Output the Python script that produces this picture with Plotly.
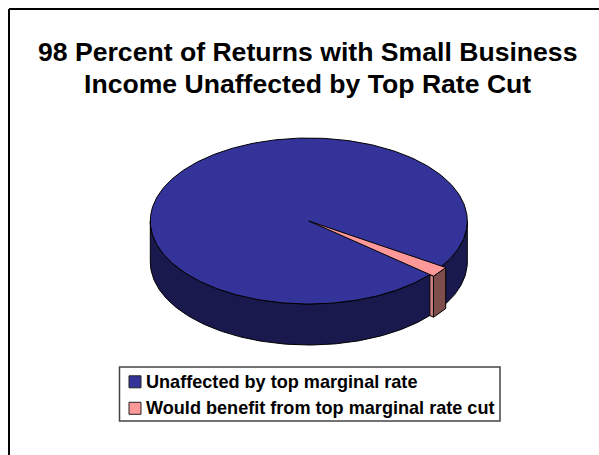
import numpy as np
import plotly.graph_objects as go

categories = ["Unaffected by top marginal rate", "Would benefit from top marginal rate cut"]
values = [98, 2]
title_lines = ["98 Percent of Returns with Small Business", "Income Unaffected by Top Rate Cut"]
top_colors = ["#333399", "#FF9999"]
wall_colors = ["#19194D", "#804D4D"]
strip_color = "#CC8282"

W, H = 599, 455
CX, CY, RX, RY, DEPTH = 308.8, 221.0, 158.5, 83.0, 41.0
START_DEG = 33.0     # where the small slice begins, clockwise from 3 o'clock
PULL = 1.03          # small slice sticks slightly out of the rim


def rim(t_deg, r=1.0, drop=0.0):
    t = np.radians(np.asarray(t_deg, dtype=float))
    r = np.asarray(r, dtype=float)
    return CX + r * RX * np.cos(t), CY + r * RY * np.sin(t) + drop


def poly(xs, ys, color):
    return go.Scatter(x=np.r_[xs, xs[0]], y=np.r_[ys, ys[0]], mode="lines", fill="toself",
                      fillcolor=color, line=dict(color="black", width=1),
                      showlegend=False, hoverinfo="skip")


sweep = 360.0 * values[1] / sum(values)
end_deg = START_DEG + sweep

fig = go.Figure()

# Dark wall of the whole pie along the front half
front = np.linspace(0, 180, 181)
x_top, y_top = rim(front)
x_bot, y_bot = rim(front, drop=DEPTH)
fig.add_trace(poly(np.r_[x_top, x_bot[::-1]], np.r_[y_top, y_bot[::-1]], wall_colors[0]))

# Top face of the large slice
around = np.linspace(0, 360, 361)
x_face, y_face = rim(around)
fig.add_trace(poly(x_face, y_face, top_colors[0]))

# Radial strip and outer wall of the small slice
ax, ay = rim([end_deg, end_deg], [1.0, PULL])
bx, by = rim([end_deg, end_deg], [1.0, PULL], DEPTH)
fig.add_trace(poly(np.r_[ax, bx[::-1]], np.r_[ay, by[::-1]], strip_color))

arc = np.linspace(START_DEG, end_deg, 12)
ox, oy = rim(arc, PULL)
ux, uy = rim(arc, PULL, DEPTH)
fig.add_trace(poly(np.r_[ox, ux[::-1]], np.r_[oy, uy[::-1]], wall_colors[1]))

# Top face of the small slice
fig.add_trace(poly(np.r_[CX, ox], np.r_[CY, oy], top_colors[1]))

# The two title lines sit closer than the default line height allows
title_font = dict(size=26.6, family="Liberation Sans", color="black")
notes = [dict(text=f"<b>{line}</b>", xref="x", yref="y", x=307, y=y_mid, showarrow=False,
              xanchor="center", yanchor="middle", font=title_font)
         for line, y_mid in zip(title_lines, [52, 84])]

# Boxed key below the pie: swatches tight against their labels
key_rows = [381.8, 408.3]
key_font = dict(size=18.1, family="Liberation Sans", color="black")
shapes = [dict(type="line", xref="x", yref="y", x0=9, x1=9, y0=9, y1=H,
               line=dict(color="black", width=2)),
          dict(type="line", xref="x", yref="y", x0=9, x1=W, y0=9, y1=9,
               line=dict(color="black", width=2)),
          dict(type="rect", xref="x", yref="y", x0=119.5, x1=500, y0=367, y1=421,
               fillcolor="white", line=dict(color="#444444", width=1.5))]
for name, color, row in zip(categories, top_colors, key_rows):
    shapes.append(dict(type="rect", xref="x", yref="y", x0=129, x1=141, y0=row - 6, y1=row + 6,
                       fillcolor=color, line=dict(color="#222222", width=1)))
    notes.append(dict(text=f"<b>{name}</b>", xref="x", yref="y", x=143.5, y=row, showarrow=False,
                      xanchor="left", yanchor="middle", font=key_font))

fig.update_layout(
    width=W, height=H,
    margin=dict(l=0, r=0, t=0, b=0),
    showlegend=False,
    paper_bgcolor="white", plot_bgcolor="white",
    font=dict(family="Liberation Sans", color="black"),
    xaxis=dict(range=[0, W], visible=False, fixedrange=True),
    yaxis=dict(range=[H, 0], visible=False, fixedrange=True),
    annotations=notes,
    shapes=shapes,
)

fig.write_html("out.html")
